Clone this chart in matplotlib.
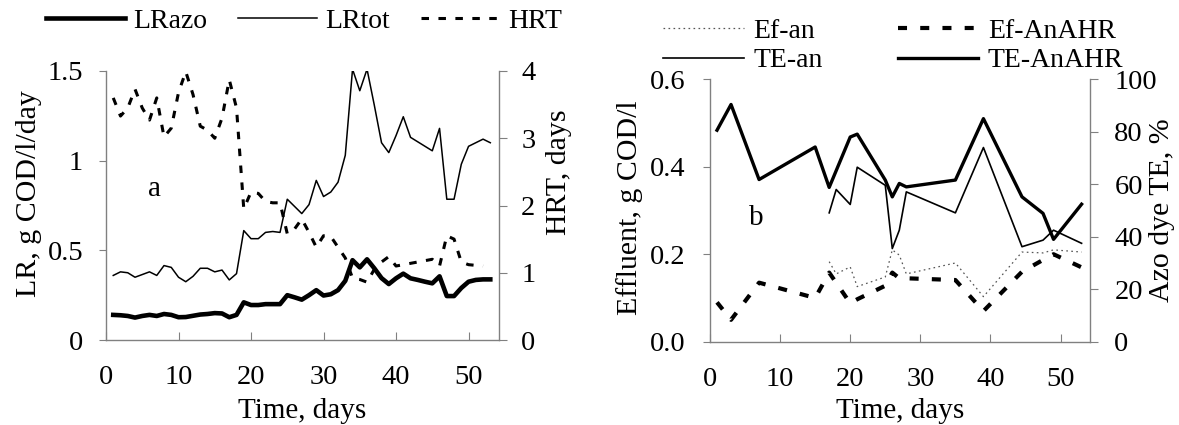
import matplotlib
matplotlib.use('Agg')
import matplotlib.pyplot as plt

plt.rcParams['font.family'] = ['Liberation Serif', 'DejaVu Serif']
plt.rcParams['font.size'] = 20
plt.rcParams['lines.scale_dashes'] = False

# ---- panel a: loading rates and HRT ----
days_a = list(range(1, 54))
lr_azo = [0.14, 0.138, 0.134, 0.125, 0.134, 0.14, 0.134, 0.145, 0.14, 0.127,
          0.128, 0.135, 0.142, 0.145, 0.15, 0.148, 0.127, 0.14, 0.21, 0.195,
          0.195, 0.2, 0.2, 0.2, 0.25, 0.238, 0.225, 0.25, 0.278, 0.248,
          0.255, 0.278, 0.33, 0.445, 0.405, 0.45, 0.40, 0.345, 0.312, 0.344,
          0.37, 0.344, 0.335, 0.325, 0.316, 0.355, 0.245, 0.245, 0.29, 0.325,
          0.335, 0.338, 0.338]
lr_tot = [0.36, 0.38, 0.375, 0.35, 0.365, 0.38, 0.36, 0.415, 0.405, 0.35,
          0.325, 0.355, 0.40, 0.40, 0.38, 0.39, 0.335, 0.37, 0.61, 0.565,
          0.565, 0.60, 0.605, 0.60, 0.785, 0.745, 0.705, 0.755, 0.89, 0.80,
          0.825, 0.88, 1.03, 1.51, 1.39, 1.51, 1.31, 1.10, 1.045, 1.14,
          1.245, 1.13, 1.105, 1.08, 1.055, 1.18, 0.785, 0.785, 0.98, 1.08,
          1.10, 1.12, 1.10]
hrt = [3.6, 3.33, 3.45, 3.73, 3.45, 3.27, 3.6, 3.02, 3.15, 3.68,
       3.99, 3.65, 3.18, 3.12, 3.0, 3.3, 3.87, 3.45, 1.95, 2.2,
       2.18, 2.06, 2.04, 2.04, 1.58, 1.65, 1.8, 1.6, 1.38, 1.55,
       1.54, 1.38, 1.22, 0.92, 0.9, 0.86, 1.05, 1.16, 1.24, 1.1,
       1.12, 1.14, 1.16, 1.18, 1.2, 1.1, 1.55, 1.5, 1.16, 1.12,
       1.11, 1.1]

# ---- panel b: effluent COD and azo dye TE ----
days_anahr = [1, 3, 7, 15, 17, 20, 21, 25, 26, 27, 28, 35, 39, 44.5, 47.5, 49, 53]
te_anahr = [80.6, 90.4, 61.8, 74.2, 58.8, 78.0, 79.1, 61.6, 55.2, 60.3,
            59.0, 61.6, 85.0, 55.2, 48.9, 39.0, 52.4]
ef_anahr = [0.09, 0.05, 0.135, 0.10, 0.158, 0.088, 0.097, 0.128, 0.158, 0.145,
            0.145, 0.141, 0.07, 0.16, 0.187, 0.2, 0.17]
days_an = [17, 18, 20, 21, 25, 26, 27, 28, 35, 39, 44.5, 47.5, 49, 53]
te_an = [49.1, 58.0, 52.3, 66.5, 59.6, 35.5, 42.5, 57.1, 49.1, 74.0,
         36.2, 38.7, 42.5, 37.5]
ef_an = [0.183, 0.155, 0.171, 0.126, 0.148, 0.21, 0.198, 0.155, 0.18, 0.103,
         0.205, 0.203, 0.21, 0.205]

W, H = 1179, 425
fig = plt.figure(figsize=(W / 100, H / 100), dpi=100)
grey = '#808080'


def style(ax, ax2, xticks, yl_pad, yr_pad):
    for s in ['top', 'right']:
        ax.spines[s].set_visible(False)
    for s in ['top', 'left', 'bottom']:
        ax2.spines[s].set_visible(False)
    for sp in [ax.spines['left'], ax.spines['bottom'], ax2.spines['right']]:
        sp.set_color(grey)
        sp.set_linewidth(1.0)
    ax.set_xlim(0, 54.2)
    ax.set_xticks(xticks)
    ax.tick_params(axis='x', direction='in', length=6, width=0.8, color=grey,
                   pad=18, labelsize=20.5)
    ax.tick_params(axis='y', direction='out', length=5, width=0.8, color=grey,
                   pad=yl_pad, labelsize=20.5)
    ax2.tick_params(axis='y', direction='out', length=6, width=0.8, color=grey,
                    pad=yr_pad, labelsize=20.5)


# panel a
ax = fig.add_axes([106 / W, 1 - 340 / H, 393 / W, 269 / H])
ax2 = ax.twinx()
l_azo, = ax.plot(days_a, lr_azo, color='black', lw=3.3)
l_tot, = ax.plot(days_a, lr_tot, color='black', lw=1.1)
l_hrt, = ax2.plot(days_a[:len(hrt)], hrt, color='black', lw=2.2, dashes=(5.4, 6.8))
ax.set_ylim(0, 1.5)
ax.set_yticks([0, 0.5, 1, 1.5])
ax.set_yticklabels(['0', '0.5', '1', '1.5'])
ax2.set_ylim(0, 4)
ax2.set_yticks([0, 1, 2, 3, 4])
style(ax, ax2, [0, 10, 20, 30, 40, 50], 11.5, 10)
ax.set_xlabel('Time, days', fontsize=21)
ax.xaxis.set_label_coords(0.5, -0.214)
ax.set_ylabel('LR, g COD/l/day', fontsize=21.5)
ax.yaxis.set_label_coords(-0.163, 0.545)
ax2.set_ylabel('HRT, days', fontsize=21.5)
ax2.yaxis.set_label_coords(1.12, 0.625)
ax.text(6.7, 0.84, 'a', fontsize=21, ha='center', va='center')

fig.legend([l_azo, l_tot, l_hrt], ['LRazo', 'LRtot', 'HRT'],
           loc='center left', bbox_to_anchor=(46 / W, 1 - 21 / H), ncol=3,
           frameon=False, borderpad=0, borderaxespad=0, handlelength=2.85,
           handletextpad=0.3, columnspacing=1.1, fontsize=20)

# panel b
bx = fig.add_axes([710 / W, 1 - 341.7 / H, 380 / W, 262.4 / H])
bx2 = bx.twinx()
l_efan, = bx.plot(days_an, ef_an, color='#555555', lw=0.9, dashes=(1.2, 2.4))
l_efah, = bx.plot(days_anahr, ef_anahr, color='black', lw=3.0, dashes=(6.5, 9.5))
l_tean, = bx2.plot(days_an, te_an, color='black', lw=1.2)
l_teah, = bx2.plot(days_anahr, te_anahr, color='black', lw=2.4)
bx.set_ylim(0, 0.6)
bx.set_yticks([0, 0.2, 0.4, 0.6])
bx.set_yticklabels(['0.0', '0.2', '0.4', '0.6'])
bx2.set_ylim(0, 100)
bx2.set_yticks([0, 20, 40, 60, 80, 100])
style(bx, bx2, [0, 10, 20, 30, 40, 50], 13, 11.5)
bx.set_xlabel('Time, days', fontsize=21)
bx.xaxis.set_label_coords(0.5, -0.214)
bx.set_ylabel('Effluent, g COD/l', fontsize=21.5)
bx.yaxis.set_label_coords(-0.176, 0.51)
bx2.set_ylabel('Azo dye TE, %', fontsize=21.5)
bx2.yaxis.set_label_coords(1.155, 0.5)
bx.text(6.6, 0.283, 'b', fontsize=21, ha='center', va='center')

fig.legend([l_efan, l_tean, l_efah, l_teah],
           ['Ef-an', 'TE-an', 'Ef-AnAHR', 'TE-AnAHR'],
           loc='center left', bbox_to_anchor=(663 / W, 1 - 46 / H), ncol=2,
           frameon=False, borderpad=0, borderaxespad=0, handlelength=2.9,
           handletextpad=0.35, columnspacing=2.7, labelspacing=0.13,
           fontsize=20)

fig.savefig('out.png', dpi=100)
